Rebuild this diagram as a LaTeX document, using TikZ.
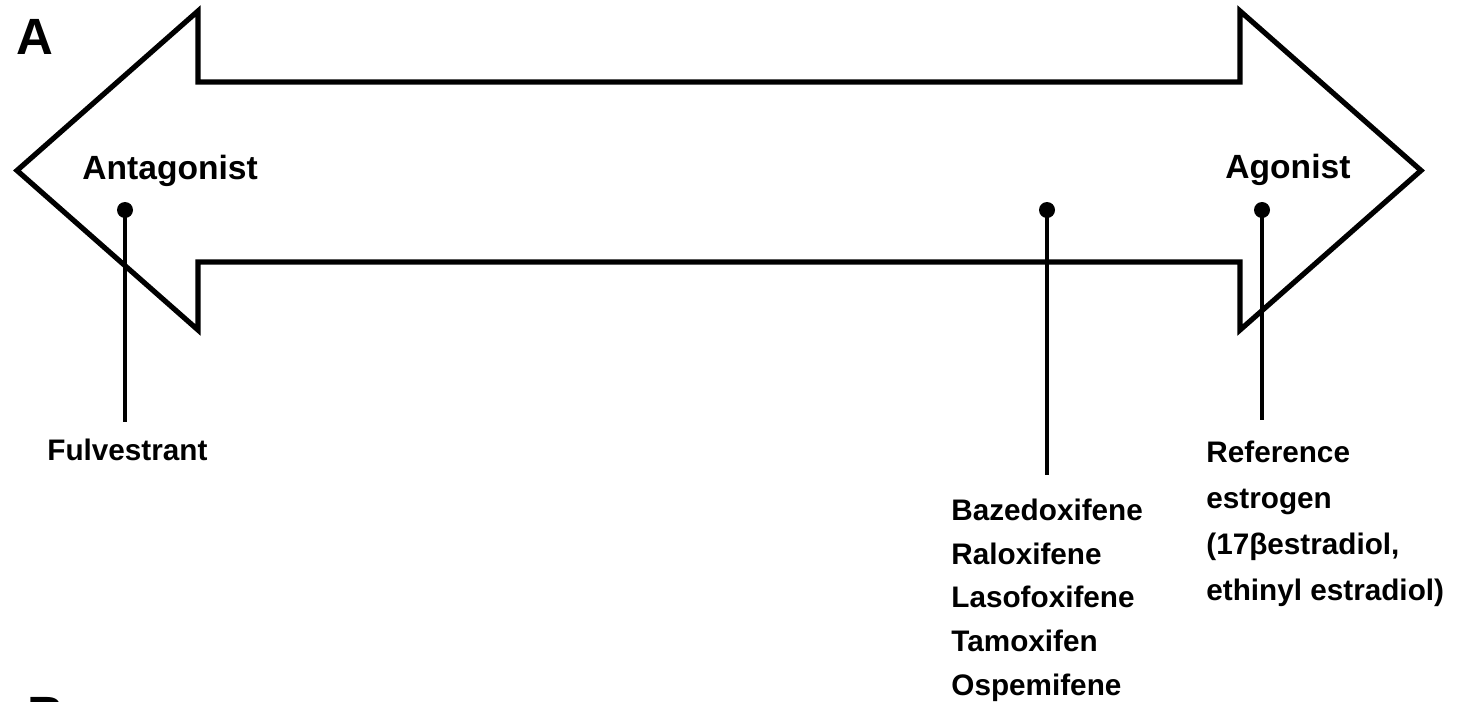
\documentclass[tikz,border=0pt]{standalone}
\usepackage{fontspec}
\setmainfont{Liberation Sans}
\begin{document}
\begin{tikzpicture}[x=0.5pt,y=-0.5pt,
  outline/.style={draw=black,line width=2.6pt,line join=miter,fill=white},
  pinline/.style={draw=black,line width=2pt},
  pindot/.style={circle,fill=black,inner sep=0pt,minimum size=8pt},
  lbl/.style={anchor=base west,inner sep=0pt,font=\fontsize{14.85}{18}\selectfont\bfseries},
  big/.style={anchor=base west,inner sep=0pt,font=\fontsize{16.8}{20}\selectfont\bfseries},
  panel/.style={anchor=base west,inner sep=0pt,font=\fontsize{25.5}{30}\selectfont\bfseries}]
\useasboundingbox (0,0) rectangle (1460,701);
\fill[white] (0,0) rectangle (1460,701);
% double arrow
\draw[outline] (17,170.5) -- (198,11) -- (198,82) -- (1240,82) -- (1240,11) -- (1421,170.5)
  -- (1240,330) -- (1240,262) -- (198,262) -- (198,330) -- cycle;
% panel letters
\node[panel] (pA) at (16,55) {A};
\node[panel] (pB) at (27,732) {B};
% end labels
\node[big] (ant) at (82,179) {Antagonist};
\node[big] (ago) at (1225,178) {Agonist};
% pins
\node[pindot] (d1) at (125,210) {};
\node[pindot] (d2) at (1047,210) {};
\node[pindot] (d3) at (1262,210) {};
\coordinate (e1) at (125,422);
\coordinate (e2) at (1047,475);
\coordinate (e3) at (1262,420);
\draw[pinline] (d1.center) -- (e1);
\draw[pinline] (d2.center) -- (e2);
\draw[pinline] (d3.center) -- (e3);
% labels
\node[lbl] (ful) at (47,460) {Fulvestrant};
\node[lbl] (m1) at (951,520) {Bazedoxifene};
\node[lbl] (m2) at (951,564) {Raloxifene};
\node[lbl] (m3) at (951,607.5) {Lasofoxifene};
\node[lbl] (m4) at (951,651) {Tamoxifen};
\node[lbl] (m5) at (951,695) {Ospemifene};
\node[lbl] (r1) at (1206,462) {Reference};
\node[lbl] (r2) at (1206,508) {estrogen};
\node[lbl] (r3) at (1206,554) {(17βestradiol,};
\node[lbl] (r4) at (1206,600) {ethinyl estradiol)};
\end{tikzpicture}
\end{document}
